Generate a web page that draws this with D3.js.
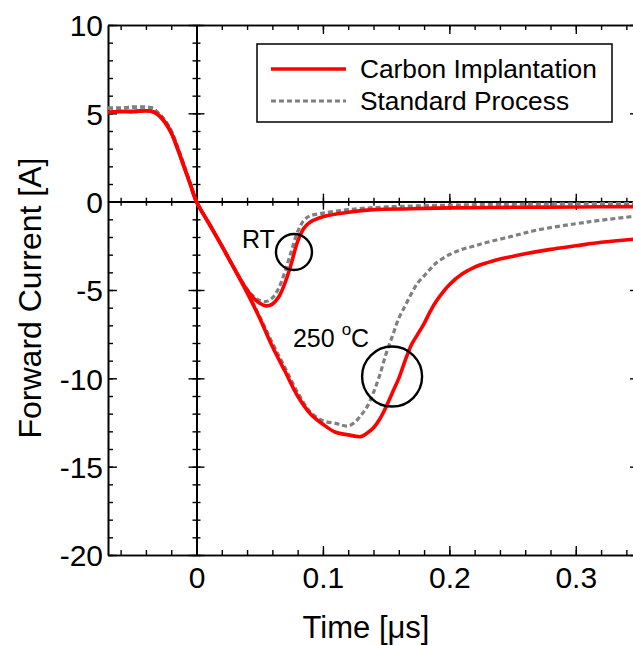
<!DOCTYPE html>
<html>
<head>
<meta charset="utf-8">
<script src="https://cdn.jsdelivr.net/npm/d3@7"></script>
<style>
  html, body { margin: 0; padding: 0; background: #fff; }
  svg { display: block; }
  text { font-family: "Liberation Sans", Arial, sans-serif; fill: #000; }
</style>
</head>
<body>
<svg id="chart" width="633" height="645"></svg>
<script>
// ---------------- data ----------------
const seriesNames = ["Carbon Implantation", "Standard Process"];

// Room temperature, carbon implantation (red)
const rtCarbonT = [-0.07, -0.06, -0.05, -0.04, -0.035, -0.03, -0.025, -0.02, -0.015, -0.01, -0.005, 0,
  0.01, 0.02, 0.03, 0.04, 0.045, 0.05, 0.055, 0.06, 0.065, 0.07, 0.075, 0.08, 0.085, 0.09, 0.1,
  0.12, 0.14, 0.17, 0.2, 0.25, 0.3, 0.35];
const rtCarbonI = [5.05, 5.1, 5.1, 5.15, 5.1, 4.9, 4.5, 3.9, 3.0, 2.0, 1.0, 0,
  -1.25, -2.5, -3.8, -5.0, -5.45, -5.75, -5.9, -5.8, -5.4, -4.6, -3.5, -2.25, -1.5, -1.15, -0.85,
  -0.6, -0.45, -0.4, -0.35, -0.32, -0.3, -0.28];

// Room temperature, standard process (grey dashed)
const rtStdT = [-0.07, -0.06, -0.05, -0.04, -0.035, -0.03, -0.025, -0.02, -0.015, -0.01, -0.005, 0,
  0.01, 0.02, 0.03, 0.04, 0.045, 0.05, 0.055, 0.06, 0.065, 0.07, 0.075, 0.08, 0.085, 0.09, 0.1,
  0.12, 0.15, 0.2, 0.25, 0.3, 0.35];
const rtStdI = [5.3, 5.3, 5.35, 5.35, 5.3, 5.0, 4.6, 4.0, 3.1, 2.1, 1.05, 0,
  -1.25, -2.5, -3.8, -4.95, -5.35, -5.6, -5.65, -5.45, -4.9, -3.95, -2.8, -1.7, -1.05, -0.8, -0.65,
  -0.45, -0.3, -0.2, -0.15, -0.12, -0.1];

// 250 °C, carbon implantation (red)
const htCarbonT = [-0.07, -0.06, -0.05, -0.04, -0.035, -0.03, -0.025, -0.02, -0.015, -0.01, -0.005, 0,
  0.01, 0.02, 0.03, 0.04, 0.05, 0.06, 0.07, 0.08, 0.09, 0.1, 0.11, 0.12, 0.13, 0.135, 0.14, 0.145,
  0.15, 0.155, 0.16, 0.165, 0.17, 0.175, 0.18, 0.185, 0.19, 0.2, 0.21, 0.22, 0.23, 0.24, 0.25,
  0.26, 0.28, 0.3, 0.32, 0.35];
const htCarbonI = [5.05, 5.1, 5.1, 5.15, 5.1, 4.9, 4.5, 3.9, 3.0, 2.0, 1.0, 0,
  -1.25, -2.5, -3.8, -5.15, -6.6, -8.2, -9.6, -11.0, -12.0, -12.6, -13.05, -13.2, -13.3, -13.1, -12.8, -12.3,
  -11.6, -10.8, -10.0, -9.0, -8.1, -7.5, -6.9, -6.2, -5.6, -4.7, -4.1, -3.7, -3.45, -3.25, -3.1,
  -2.95, -2.7, -2.5, -2.3, -2.1];

// 250 °C, standard process (grey dashed)
const htStdT = [-0.07, -0.06, -0.05, -0.04, -0.035, -0.03, -0.025, -0.02, -0.015, -0.01, -0.005, 0,
  0.01, 0.02, 0.03, 0.04, 0.05, 0.06, 0.07, 0.08, 0.09, 0.1, 0.11, 0.115, 0.12, 0.125, 0.13, 0.135,
  0.14, 0.145, 0.15, 0.155, 0.16, 0.165, 0.17, 0.175, 0.18, 0.185, 0.19, 0.2, 0.21, 0.22, 0.23,
  0.25, 0.27, 0.3, 0.32, 0.35];
const htStdI = [5.3, 5.3, 5.35, 5.35, 5.3, 5.0, 4.6, 4.0, 3.1, 2.1, 1.05, 0,
  -1.25, -2.5, -3.8, -5.1, -6.5, -8.0, -9.4, -10.8, -11.9, -12.4, -12.55, -12.65, -12.7, -12.5, -12.1, -11.6,
  -10.8, -9.8, -8.6, -7.6, -6.6, -5.9, -5.2, -4.6, -4.2, -3.8, -3.45, -3.0, -2.7, -2.5, -2.3,
  -1.95, -1.6, -1.25, -1.05, -0.8];

// axes
const xDomain = [-0.07, 0.35];
const yDomain = [-20, 10];
const xMajorTicks = [0, 0.1, 0.2, 0.3];
const xTickLabels = ["0", "0.1", "0.2", "0.3"];
const xMinorTicks = d3.range(-3, 18).map(i => i * 0.02);
const yMajorTicks = [-20, -15, -10, -5, 0, 5, 10];
const yTickLabels = ["-20", "-15", "-10", "-5", "0", "5", "10"];
const yMinorTicks = d3.range(-20, 11);
const xTitle = "Time [\u03bcs]";
const yTitle = "Forward Current [A]";

// annotations (data coordinates)
const annCircles = [{t: 0.0771, i: -2.85, r: 18}, {t: 0.1547, i: -9.9, r: 30}];
const annRT = {t: 0.036, i: -2.6, text: "RT"};
const ann250 = {t: 0.0763, i: -8.2, text: "250 ", sup: "o", unit: "C"};

// ---------------- drawing ----------------
const svg = d3.select("#chart");
const L = 108, R = 639, T = 25, B = 555;
const x = d3.scaleLinear().domain(xDomain).range([L, R]);
const y = d3.scaleLinear().domain(yDomain).range([B, T]);

const tickFont = 30;

function styleAxis(g) {
  g.selectAll("path.domain").attr("stroke", "#000").attr("stroke-width", 1.6);
  g.selectAll(".tick line").attr("stroke", "#000").attr("stroke-width", 1.4);
}

// frame: bottom (minor + major with labels)
svg.append("g").attr("transform", `translate(0,${B})`)
  .call(d3.axisBottom(x).tickValues(xMinorTicks).tickSize(-5).tickSizeOuter(0).tickFormat(""))
  .call(styleAxis);
svg.append("g").attr("transform", `translate(0,${B})`)
  .call(d3.axisBottom(x).tickValues(xMajorTicks).tickSize(-9).tickSizeOuter(0).tickPadding(12)
    .tickFormat((d, i) => xTickLabels[i]))
  .call(styleAxis)
  .call(g => g.selectAll("text").attr("font-size", tickFont).attr("font-family", "Liberation Sans, Arial, sans-serif").attr("fill", "#000"));

// top
svg.append("g").attr("transform", `translate(0,${T})`)
  .call(d3.axisTop(x).tickValues(xMinorTicks).tickSize(-5).tickSizeOuter(0).tickFormat(""))
  .call(styleAxis);
svg.append("g").attr("transform", `translate(0,${T})`)
  .call(d3.axisTop(x).tickValues(xMajorTicks).tickSize(-9).tickSizeOuter(0).tickFormat(""))
  .call(styleAxis);

// left
svg.append("g").attr("transform", `translate(${L},0)`)
  .call(d3.axisLeft(y).tickValues(yMinorTicks).tickSize(-5).tickSizeOuter(0).tickFormat(""))
  .call(styleAxis);
svg.append("g").attr("transform", `translate(${L},0)`)
  .call(d3.axisLeft(y).tickValues(yMajorTicks).tickSize(-9).tickSizeOuter(0).tickPadding(5)
    .tickFormat((d, i) => yTickLabels[i]))
  .call(styleAxis)
  .call(g => g.selectAll("text").attr("font-size", tickFont).attr("font-family", "Liberation Sans, Arial, sans-serif").attr("fill", "#000").attr("dy", "0.36em"));

// right
svg.append("g").attr("transform", `translate(${R},0)`)
  .call(d3.axisRight(y).tickValues(yMinorTicks).tickSize(-5).tickSizeOuter(0).tickFormat(""))
  .call(styleAxis);
svg.append("g").attr("transform", `translate(${R},0)`)
  .call(d3.axisRight(y).tickValues(yMajorTicks).tickSize(-9).tickSizeOuter(0).tickFormat(""))
  .call(styleAxis);

// zero axes (ticks crossing both sides)
const x0 = x(0), y0 = y(0);
[d3.axisLeft, d3.axisRight].forEach(ax => {
  svg.append("g").attr("transform", `translate(${x0},0)`)
    .call(ax(y).tickValues(yMinorTicks).tickSize(4).tickSizeOuter(0).tickFormat(""))
    .call(styleAxis);
  svg.append("g").attr("transform", `translate(${x0},0)`)
    .call(ax(y).tickValues(yMajorTicks).tickSize(8).tickSizeOuter(0).tickFormat(""))
    .call(styleAxis);
  });
[d3.axisTop, d3.axisBottom].forEach(ax => {
  svg.append("g").attr("transform", `translate(0,${y0})`)
    .call(ax(x).tickValues(xMinorTicks).tickSize(4).tickSizeOuter(0).tickFormat(""))
    .call(styleAxis);
  svg.append("g").attr("transform", `translate(0,${y0})`)
    .call(ax(x).tickValues(xMajorTicks).tickSize(8).tickSizeOuter(0).tickFormat(""))
    .call(styleAxis);
});

// axis titles
svg.append("text").attr("x", 366).attr("y", 638).attr("text-anchor", "middle")
  .attr("font-size", 31).text(xTitle);
svg.append("text").attr("transform", `translate(41,${(T + B) / 2 + 8}) rotate(-90)`)
  .attr("text-anchor", "middle").attr("font-size", 32).text(yTitle);

// curves
const clip = svg.append("clipPath").attr("id", "clip").append("rect")
  .attr("x", L).attr("y", T).attr("width", R - L).attr("height", B - T);
const line = d3.line().x(d => x(d[0])).y(d => y(d[1])).curve(d3.curveCatmullRom.alpha(0.5));
const plot = svg.append("g").attr("clip-path", "url(#clip)");

const greyStyle = p => p.attr("fill", "none").attr("stroke", "#808080").attr("stroke-width", 3.2)
  .attr("stroke-dasharray", "5,3");
const redStyle = p => p.attr("fill", "none").attr("stroke", "#ff0000").attr("stroke-width", 3.6)
  .attr("stroke-linejoin", "round");

plot.append("path").datum(d3.zip(rtStdT, rtStdI)).attr("d", line).call(greyStyle);
plot.append("path").datum(d3.zip(htStdT, htStdI)).attr("d", line).call(greyStyle);
plot.append("path").datum(d3.zip(rtCarbonT, rtCarbonI)).attr("d", line).call(redStyle);
plot.append("path").datum(d3.zip(htCarbonT, htCarbonI)).attr("d", line).call(redStyle);

// annotations
annCircles.forEach(c => {
  svg.append("circle").attr("cx", x(c.t)).attr("cy", y(c.i)).attr("r", c.r)
    .attr("fill", "none").attr("stroke", "#000").attr("stroke-width", 2.4);
});
svg.append("text").attr("x", x(annRT.t)).attr("y", y(annRT.i)).attr("font-size", 25).text(annRT.text);
const t250 = svg.append("text").attr("x", x(ann250.t)).attr("y", y(ann250.i)).attr("font-size", 25)
  .attr("xml:space", "preserve");
t250.append("tspan").text(ann250.text);
t250.append("tspan").attr("dy", -12).attr("font-size", 17).text(ann250.sup);
t250.append("tspan").attr("dy", 12).text(ann250.unit);

// legend
const lg = svg.append("g");
lg.append("rect").attr("x", 257).attr("y", 44).attr("width", 355).attr("height", 78)
  .attr("fill", "#fff").attr("stroke", "#000").attr("stroke-width", 1.5);
lg.append("line").attr("x1", 271).attr("x2", 346).attr("y1", 69).attr("y2", 69)
  .attr("stroke", "#ff0000").attr("stroke-width", 3.4);
lg.append("line").attr("x1", 271).attr("x2", 346).attr("y1", 101).attr("y2", 101)
  .attr("stroke", "#808080").attr("stroke-width", 3.2).attr("stroke-dasharray", "5,3");
lg.append("text").attr("x", 360).attr("y", 78).attr("font-size", 26.3).text(seriesNames[0]);
lg.append("text").attr("x", 360).attr("y", 110).attr("font-size", 26.3).text(seriesNames[1]);
</script>
</body>
</html>
